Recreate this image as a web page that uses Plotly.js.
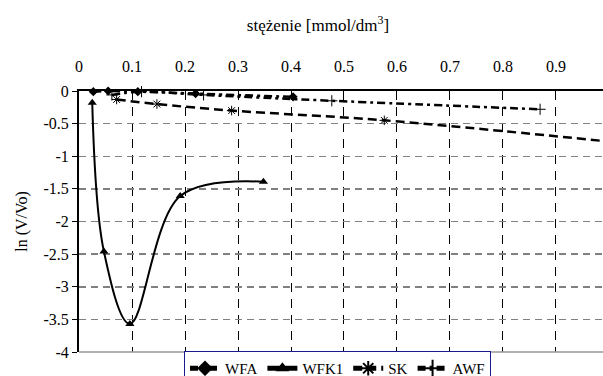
<!DOCTYPE html>
<html>
<head>
<meta charset="utf-8">
<script src="https://cdn.plot.ly/plotly-3.0.1.min.js"></script>
<style>html,body{margin:0;padding:0;background:#fff;}#chart{width:603px;height:376px;}</style>
</head>
<body>
<div id="chart"></div>
<script>
// Data
const wfaX = [0.027, 0.055, 0.111, 0.22, 0.404];
const wfaY = [-0.01, 0.0, -0.01, -0.04, -0.09];

const wfk1X = [0.025, 0.047, 0.096, 0.191, 0.348];
const wfk1Y = [-0.18, -2.46, -3.57, -1.61, -1.39];

const skX = [0.071, 0.147, 0.288, 0.576, 1.152];
const skY = [-0.13, -0.20, -0.30, -0.45, -0.90];

const awfX = [0.062, 0.118, 0.235, 0.477, 0.87];
const awfY = [-0.06, -0.01, -0.06, -0.15, -0.28];

const seriesNames = ["WFA", "WFK1", "SK", "AWF"];
const xTickVals = [0, 0.1, 0.2, 0.3, 0.4, 0.5, 0.6, 0.7, 0.8, 0.9];
const yTickVals = [0, -0.5, -1, -1.5, -2, -2.5, -3, -3.5, -4];

const FONT = "Liberation Serif";
const dashDot = "8px,4px,3px,4px";

const traces = [
  {x: wfaX, y: wfaY, name: seriesNames[0], mode: "lines+markers", cliponaxis: false,
   line: {color: "#000", width: 2.5, dash: dashDot, shape: "spline"},
   marker: {symbol: "diamond", size: 7, color: "#000"}},
  {x: wfk1X, y: wfk1Y, name: seriesNames[1], mode: "lines+markers", cliponaxis: false,
   line: {color: "#000", width: 2, shape: "spline", smoothing: 1},
   marker: {symbol: "triangle-up", size: 8, color: "#000"}},
  {x: skX, y: skY, name: seriesNames[2], mode: "lines+markers", cliponaxis: false,
   line: {color: "#000", width: 2.5, dash: "9px,5px", shape: "spline"},
   marker: {symbol: "asterisk-open", size: 8, color: "#000", line: {color: "#000", width: 1}}},
  {x: awfX, y: awfY, name: seriesNames[3], mode: "lines+markers", cliponaxis: false,
   line: {color: "#000", width: 2.5, dash: dashDot, shape: "spline"},
   marker: {symbol: "cross-thin-open", size: 8, color: "#000", line: {color: "#000", width: 1}}}
];

const layout = {
  width: 603, height: 376,
  margin: {l: 79, r: 0, t: 91, b: 24, pad: 0, autoexpand: false},
  paper_bgcolor: "#fff", plot_bgcolor: "#fff",
  font: {family: FONT, size: 16, color: "#000"},
  showlegend: true,
  title: {text: "stężenie [mmol/dm<sup>3</sup>]", x: 318/603, xanchor: "center",
          xref: "container", y: 1 - 25/376, yanchor: "middle", yref: "container",
          font: {family: FONT, size: 17, color: "#000"}},
  xaxis: {
    side: "top", range: [0, 0.9887], tickvals: xTickVals, ticktext: xTickVals.map(String),
    showline: true, linecolor: "#000", linewidth: 2,
    ticks: "inside", ticklen: 5, tickwidth: 1, tickcolor: "#000",
    ticklabelstandoff: 11, automargin: false,
    showgrid: true, gridcolor: "#000", gridwidth: 1, griddash: "9px,7px",
    zeroline: false, tickfont: {family: FONT, size: 16, color: "#000"}
  },
  yaxis: {
    range: [-4, 0], tickvals: yTickVals, ticktext: yTickVals.map(String),
    showline: true, linecolor: "#000", linewidth: 2, automargin: false,
    ticks: "outside", ticklen: 5, tickwidth: 1, tickcolor: "#000",
    showgrid: true, gridcolor: "#808080", gridwidth: 1.5, griddash: "7px,5px",
    zeroline: false, tickfont: {family: FONT, size: 16, color: "#000"},
    title: {text: "ln (V/Vo)", standoff: 12, font: {family: FONT, size: 16, color: "#000"}}
  },
  legend: {
    orientation: "h", x: 184/603, xref: "container", xanchor: "left",
    y: 1 - 351/376, yref: "container", yanchor: "top",
    bordercolor: "#1a1a8c", borderwidth: 1, bgcolor: "#fff",
    font: {family: FONT, size: 15, color: "#000"},
    itemwidth: 30, tracegroupgap: 0, itemsizing: "constant"
  },
  shapes: [
    {type: "line", xref: "paper", yref: "paper", x0: 0, x1: 1, y0: 0, y1: 0,
     line: {color: "#999", width: 1.5}}
  ]
};

Plotly.newPlot("chart", traces, layout, {displayModeBar: false, staticPlot: true});
</script>
</body>
</html>
